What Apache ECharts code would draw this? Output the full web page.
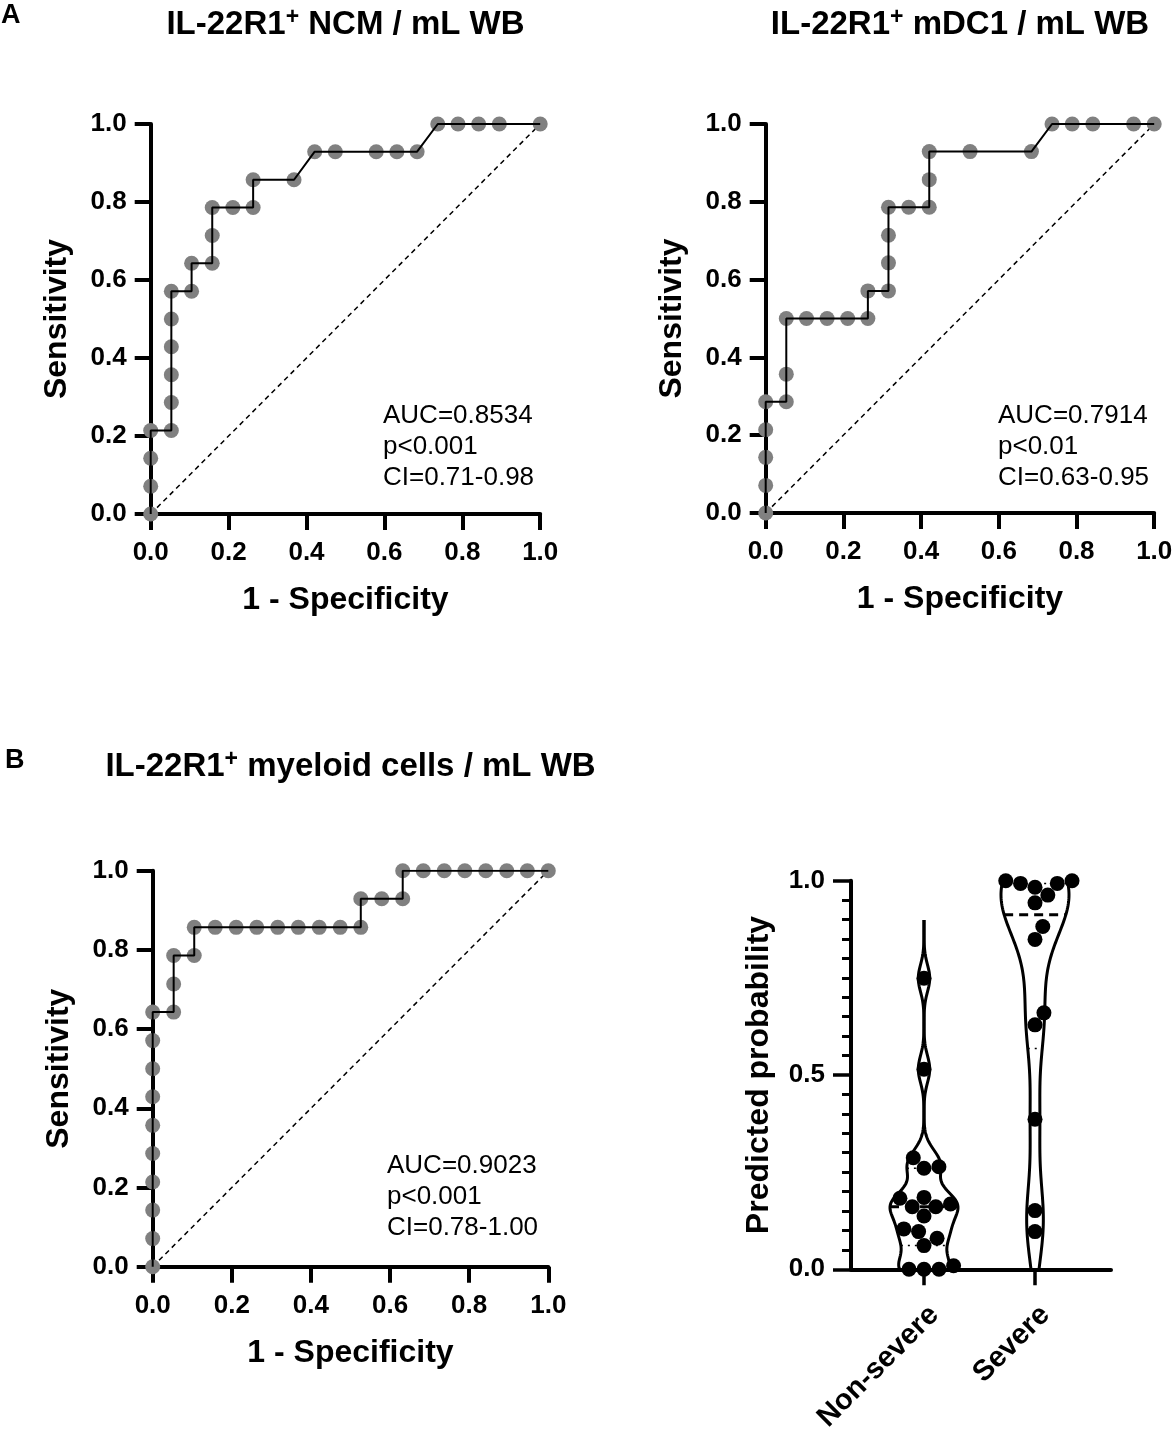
<!DOCTYPE html>
<html>
<head>
<meta charset="utf-8">
<script src="https://cdn.jsdelivr.net/npm/echarts@6/dist/echarts.min.js"></script>
<style>
  html, body { margin: 0; padding: 0; background: #fff; }
  #chart { width: 1173px; height: 1429px; }
</style>
</head>
<body>
<div id="chart"></div>
<script>
const FONT = '"Liberation Sans", Arial, Helvetica, sans-serif';

// ROC points (x = 1 - specificity, y = sensitivity)
const ncmFpr = [0, 0, 0, 0, 0.053, 0.053, 0.053, 0.053, 0.053, 0.053, 0.105, 0.105, 0.158, 0.158, 0.158,
  0.211, 0.263, 0.263, 0.368, 0.421, 0.474, 0.579, 0.632, 0.684, 0.737, 0.789, 0.842, 0.895, 1];
const ncmSens = [0, 0.071, 0.143, 0.214, 0.214, 0.286, 0.357, 0.429, 0.5, 0.571, 0.571, 0.643, 0.643, 0.714, 0.786,
  0.786, 0.786, 0.857, 0.857, 0.929, 0.929, 0.929, 0.929, 0.929, 1, 1, 1, 1, 1];

const mdc1Fpr = [0, 0, 0, 0, 0, 0.053, 0.053, 0.053, 0.105, 0.158, 0.211, 0.263, 0.263, 0.316, 0.316, 0.316, 0.316,
  0.368, 0.421, 0.421, 0.421, 0.526, 0.684, 0.737, 0.789, 0.842, 0.947, 1];
const mdc1Sens = [0, 0.071, 0.143, 0.214, 0.286, 0.286, 0.357, 0.5, 0.5, 0.5, 0.5, 0.5, 0.571, 0.571, 0.643, 0.714, 0.786,
  0.786, 0.786, 0.857, 0.929, 0.929, 0.929, 1, 1, 1, 1, 1];

const myeFpr = [0, 0, 0, 0, 0, 0, 0, 0, 0, 0, 0.053, 0.053, 0.053, 0.105, 0.105, 0.158, 0.211, 0.263, 0.316, 0.368,
  0.421, 0.474, 0.526, 0.526, 0.579, 0.632, 0.632, 0.684, 0.737, 0.789, 0.842, 0.895, 0.947, 1];
const myeSens = [0, 0.071, 0.143, 0.214, 0.286, 0.357, 0.429, 0.5, 0.571, 0.643, 0.643, 0.714, 0.786, 0.786, 0.857,
  0.857, 0.857, 0.857, 0.857, 0.857, 0.857, 0.857, 0.857, 0.929, 0.929, 0.929, 1, 1, 1, 1, 1, 1, 1, 1];

const ncmStats = ['AUC=0.8534', 'p<0.001', 'CI=0.71-0.98'];
const mdc1Stats = ['AUC=0.7914', 'p<0.01', 'CI=0.63-0.95'];
const myeStats = ['AUC=0.9023', 'p<0.001', 'CI=0.78-1.00'];

// predicted probabilities per group
const groups = ['Non-severe', 'Severe'];
const nonSevere = [0, 0.009, 0, 0, 0.061, 0.080, 0.097, 0.104, 0.137, 0.161, 0.168, 0.161, 0.183, 0.185,
  0.264, 0.287, 0.260, 0.515, 0.749];
const severe = [1.0, 0.993, 0.983, 0.993, 1.0, 0.963, 0.943, 0.882, 0.849, 0.660, 0.629, 0.386, 0.151, 0.097];
const groupValues = [nonSevere, severe];
const bandwidth = [0.035, 0.1];

// layout
const rocGrids = [
  { left: 150.7, top: 124, width: 389.5, height: 390 },
  { left: 765.7, top: 124, width: 388.5, height: 389 },
  { left: 152.7, top: 870.7, width: 395.6, height: 396 },
];
const violinGrid = { left: 851, top: 880.7, width: 260, height: 388.6 };
const catGrid = { left: 868.5, top: 880.7, width: 222, height: 388.6 };
const VIOLIN_HALF = 34;
const DOT_R = 7.5;

function kde(vals, h, y) {
  let s = 0;
  for (const v of vals) { const u = (y - v) / h; s += Math.exp(-0.5 * u * u); }
  return s;
}

function quantile(vals, p) {
  const s = [...vals].sort((a, b) => a - b);
  const n = s.length, pos = (n + 1) * p, k = Math.floor(pos), f = pos - k;
  if (k < 1) return s[0];
  if (k >= n) return s[n - 1];
  return s[k - 1] + f * (s[k] - s[k - 1]);
}

// greedy beeswarm, offsets in pixels
function swarm(vals, pxPerUnit, dist) {
  const order = vals.map((v, i) => i).sort((a, b) => vals[a] - vals[b]);
  const placed = [];
  const out = new Array(vals.length);
  for (const i of order) {
    const y = vals[i] * pxPerUnit;
    const blocks = [];
    for (const p of placed) {
      const dy = Math.abs(p.y - y);
      if (dy < dist) { const dx = Math.sqrt(dist * dist - dy * dy); blocks.push([p.x - dx, p.x + dx]); }
    }
    const cands = [0];
    blocks.forEach(b => cands.push(b[0], b[1]));
    cands.sort((a, b) => Math.abs(a) - Math.abs(b) || b - a);
    const x = cands.find(c => blocks.every(b => c <= b[0] + 1e-9 || c >= b[1] - 1e-9));
    placed.push({ x, y });
    out[i] = x;
  }
  return out;
}
const swarmOffsets = groupValues.map(v => swarm(v, violinGrid.height, 15));

function renderViolin(params, api) {
  const cat = api.value(0);
  const vals = groupValues[cat];
  const h = bandwidth[cat];
  const lo = Math.max(0, Math.min(...vals) - 0.15);
  const hi = Math.min(1, Math.max(...vals) + 0.15);
  const n = 200;
  const ys = [];
  for (let i = 0; i <= n; i++) ys.push(lo + (hi - lo) * i / n);
  const maxD = Math.max(...ys.map(y => kde(vals, h, y)));
  const half = y => VIOLIN_HALF * kde(vals, h, y) / maxD;
  const right = ys.map(y => { const p = api.coord([cat, y]); return [p[0] + half(y), p[1]]; });
  const left = ys.map(y => { const p = api.coord([cat, y]); return [p[0] - half(y), p[1]]; });
  const stroke = { stroke: '#000', lineWidth: 3, fill: null };
  const children = [
    { type: 'polyline', shape: { points: right }, style: stroke },
    { type: 'polyline', shape: { points: left }, style: stroke },
  ];
  const hLine = (q, style) => {
    const p = api.coord([cat, q]);
    const w = half(q);
    return { type: 'line', shape: { x1: p[0] - w, y1: p[1], x2: p[0] + w, y2: p[1] }, style };
  };
  children.push(hLine(quantile(vals, 0.5), { stroke: '#000', lineWidth: 3, lineDash: [9, 6] }));
  children.push(hLine(quantile(vals, 0.25), { stroke: '#000', lineWidth: 1.5, lineDash: [2, 5] }));
  children.push(hLine(quantile(vals, 0.75), { stroke: '#000', lineWidth: 1.5, lineDash: [2, 5] }));
  return { type: 'group', children };
}

function renderDot(params, api) {
  const cat = api.value(0), v = api.value(1), i = api.value(2);
  const p = api.coord([cat, v]);
  return {
    type: 'circle',
    shape: { cx: p[0] + swarmOffsets[cat][i], cy: p[1], r: DOT_R },
    style: { fill: '#000' },
  };
}

const rocPanels = [
  { fpr: ncmFpr, sens: ncmSens, stats: ncmStats, textX: 383, textY: 447 },
  { fpr: mdc1Fpr, sens: mdc1Sens, stats: mdc1Stats, textX: 998, textY: 447 },
  { fpr: myeFpr, sens: myeSens, stats: myeStats, textX: 387, textY: 1196.5 },
];

const axisLineStyle = { color: '#000', width: 4 };
const tickLabel = { color: '#000', fontSize: 26, fontWeight: 'bold', fontFamily: FONT };
const nameStyle = { color: '#000', fontSize: 32, fontWeight: 'bold', fontFamily: FONT };

const xAxis = rocPanels.map((p, i) => ({
  type: 'value', gridIndex: i, min: 0, max: 1, interval: 0.2,
  axisLine: { onZero: false, lineStyle: axisLineStyle },
  axisTick: { length: 16, lineStyle: axisLineStyle },
  axisLabel: Object.assign({ margin: 26, formatter: v => v.toFixed(1) }, tickLabel),
  splitLine: { show: false },
  name: '1 - Specificity', nameLocation: 'middle', nameGap: 70, nameTextStyle: nameStyle,
}));
const yAxis = rocPanels.map((p, i) => ({
  type: 'value', gridIndex: i, min: 0, max: 1, interval: 0.2,
  axisLine: { onZero: false, lineStyle: axisLineStyle },
  axisTick: { length: 16, lineStyle: axisLineStyle },
  axisLabel: Object.assign({ margin: 24, formatter: v => v.toFixed(1) }, tickLabel),
  splitLine: { show: false },
  name: 'Sensitivity', nameLocation: 'middle', nameGap: 78, nameTextStyle: nameStyle,
}));

xAxis.push({
  type: 'value', gridIndex: 3, min: 0, max: 1,
  axisLine: { onZero: false, lineStyle: axisLineStyle },
  axisTick: { show: false }, axisLabel: { show: false }, splitLine: { show: false },
});
xAxis.push({
  type: 'category', gridIndex: 4, data: groups, boundaryGap: true,
  axisLine: { show: false },
  axisTick: { show: true, alignWithLabel: true, length: 16, lineStyle: { color: '#000', width: 3.5 } },
  axisLabel: Object.assign({ rotate: 45, margin: 31, interval: 0, verticalAlign: 'top' }, tickLabel, { fontSize: 29 }),
  splitLine: { show: false },
});
yAxis.push({
  type: 'value', gridIndex: 3, min: 0, max: 1, interval: 0.5,
  axisLine: { onZero: false, lineStyle: axisLineStyle },
  axisTick: { length: 18, lineStyle: { color: '#000', width: 3.5 } },
  minorTick: { show: true, splitNumber: 10, length: 9, lineStyle: { color: '#000', width: 3 } },
  axisLabel: Object.assign({ margin: 26, formatter: v => v.toFixed(1) }, tickLabel),
  splitLine: { show: false }, minorSplitLine: { show: false },
  name: 'Predicted probability', nameLocation: 'middle', nameGap: 76, nameTextStyle: nameStyle,
});
yAxis.push({ type: 'value', gridIndex: 4, min: 0, max: 1, show: false });

const series = [];
rocPanels.forEach((p, i) => {
  const pts = p.fpr.map((x, k) => [x, p.sens[k]]);
  series.push({
    type: 'line', xAxisIndex: i, yAxisIndex: i, data: [[0, 0], [1, 1]], symbol: 'none', z: 1,
    lineStyle: { color: '#000', width: 1.5, type: [5, 4] }, silent: true,
  });
  series.push({
    type: 'scatter', xAxisIndex: i, yAxisIndex: i, data: pts, symbolSize: 15, clip: false, z: 2,
    itemStyle: { color: '#808080', opacity: 1 },
  });
  series.push({
    type: 'line', xAxisIndex: i, yAxisIndex: i, data: pts, symbol: 'none', z: 3,
    lineStyle: { color: '#000', width: 2 },
  });
});
series.push({
  type: 'custom', xAxisIndex: 4, yAxisIndex: 4, renderItem: renderViolin, z: 2,
  data: groups.map((g, i) => [i, 0.5]),
});
series.push({
  type: 'custom', xAxisIndex: 4, yAxisIndex: 4, renderItem: renderDot, z: 3,
  data: groupValues.flatMap((vals, c) => vals.map((v, i) => [c, v, i])),
});

function title(text, x, y) {
  return {
    type: 'text', x, y,
    style: {
      text, fill: '#000', align: 'center', verticalAlign: 'middle',
      textAlign: 'center', textVerticalAlign: 'middle',
      rich: {
        b: { fontSize: 33, fontWeight: 'bold', fontFamily: FONT, lineHeight: 38 },
        s: { fontSize: 23, fontWeight: 'bold', fontFamily: FONT, lineHeight: 20, verticalAlign: 'top' },
      },
    },
  };
}
function letter(text, x, y) {
  return {
    type: 'text', x, y,
    style: { text, fill: '#000', font: 'bold 27px ' + FONT, verticalAlign: 'middle', textVerticalAlign: 'middle' },
  };
}

const graphic = [
  letter('A', 1, 16),
  letter('B', 5, 761),
  title('{b|IL-22R1}{s|+}{b| NCM / mL WB}', 345.5, 25),
  title('{b|IL-22R1}{s|+}{b| mDC1 / mL WB}', 960, 25),
  title('{b|IL-22R1}{s|+}{b| myeloid cells / mL WB}', 350.5, 767),
];
rocPanels.forEach(p => {
  graphic.push({
    type: 'text', x: p.textX, y: p.textY,
    style: {
      text: p.stats.join('\n'), fill: '#000', font: '26px ' + FONT, lineHeight: 31,
      align: 'left', verticalAlign: 'middle', textAlign: 'left', textVerticalAlign: 'middle',
    },
  });
});

const chart = echarts.init(document.getElementById('chart'), null, { renderer: 'canvas' });
chart.setOption({
  animation: false,
  backgroundColor: '#fff',
  textStyle: { fontFamily: FONT },
  grid: rocGrids.concat([violinGrid, catGrid])
    .map(g => Object.assign({ containLabel: false, outerBoundsMode: 'none' }, g)),
  xAxis,
  yAxis,
  series,
  graphic,
});
</script>
</body>
</html>
